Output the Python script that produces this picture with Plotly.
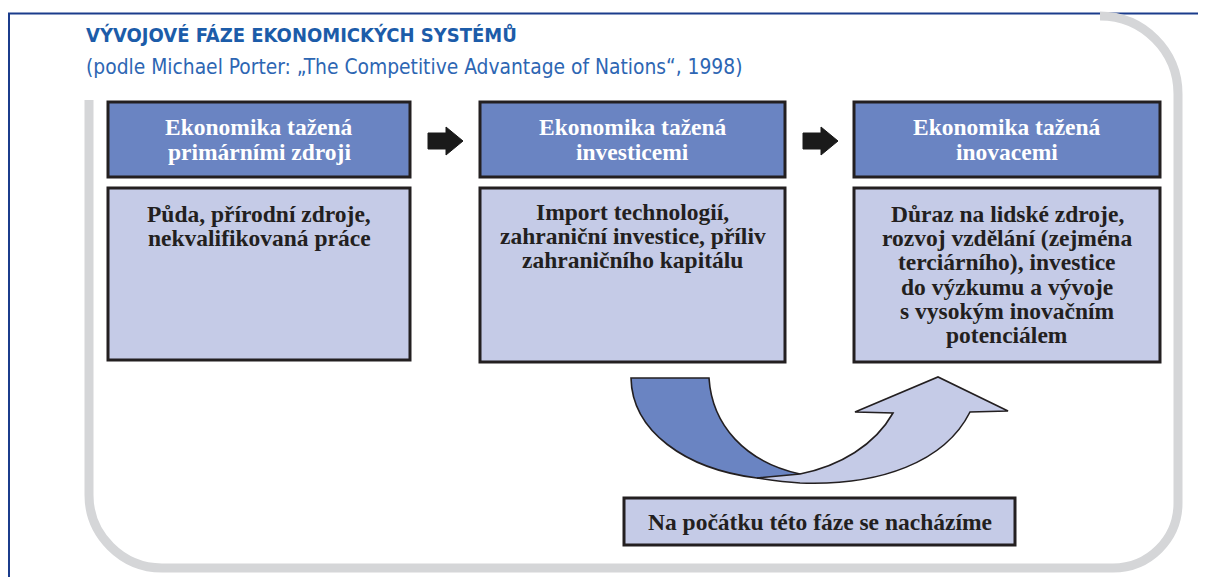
import plotly.graph_objects as go

# texts of the diagram
title = "VÝVOJOVÉ FÁZE EKONOMICKÝCH SYSTÉMŮ"
subtitle = "(podle Michael Porter: \u201eThe Competitive Advantage of Nations\u201c, 1998)"
header_lines = [
    ["Ekonomika tažená", "primárními zdroji"],
    ["Ekonomika tažená", "investicemi"],
    ["Ekonomika tažená", "inovacemi"],
]
body_lines = [
    ["Půda, přírodní zdroje,", "nekvalifikovaná práce"],
    ["Import technologií,", "zahraniční investice, příliv", "zahraničního kapitálu"],
    ["Důraz na lidské zdroje,", "rozvoj vzdělání (zejména", "terciárního), investice",
     "do výzkumu a vývoje", "s vysokým inovačním", "potenciálem"],
]
note_text = "Na počátku této fáze se nacházíme"

# layout (pixel coordinates of the page; page body has an 8px margin)
W, H = 1206, 577
OFF = 8
box_x = [(108, 410), (480, 785), (854, 1160)]
head_y = (102, 177)
body_y = [(188, 360), (188, 362), (188, 362)]
body_first = [214, 212, 214]
arrow_x = [428, 803]
note_box = (624, 498, 1015, 545)

DARK = "#231f20"
MID = "#6a84c2"
LIGHT = "#c5cbe7"
GRAY = "#d5d6d8"
NAVY = "#1b3c8c"
SERIF = "Liberation Serif, DejaVu Serif, serif"
SANS = "Liberation Sans Narrow, DejaVu Sans Condensed, sans-serif"
FS = 23.5

fig = go.Figure()
shapes = []
ann = []

# outer navy frame
shapes.append(dict(type="line", x0=OFF, x1=W + OFF, y0=13.5, y1=13.5, line=dict(color=NAVY, width=2)))
shapes.append(dict(type="line", x0=OFF + 1, x1=OFF + 1, y0=13, y1=H + OFF, line=dict(color=NAVY, width=2)))

# gray rounded frame
frame = ("M 89,100 L 89,495 C 89,535 122,568 162,568 L 1113,568 "
         "C 1149,568 1178,539 1178,503 L 1178,94 C 1178,51 1143,16 1100,16")
shapes.append(dict(type="path", path=frame, line=dict(color=GRAY, width=9)))

# boxes
for i, (x0, x1) in enumerate(box_x):
    shapes.append(dict(type="rect", x0=x0, x1=x1, y0=head_y[0], y1=head_y[1],
                       fillcolor=MID, line=dict(color=DARK, width=3)))
    shapes.append(dict(type="rect", x0=x0, x1=x1, y0=body_y[i][0], y1=body_y[i][1],
                       fillcolor=LIGHT, line=dict(color=DARK, width=3)))
    cx = (x0 + x1) / 2
    for j, line in enumerate(header_lines[i]):
        ann.append(dict(x=cx, y=127 + j * 25, text=line,
                        font=dict(family=SERIF, size=FS, color="white", weight="bold")))
    for j, line in enumerate(body_lines[i]):
        ann.append(dict(x=cx, y=body_first[i] + j * 24.2, text=line,
                        font=dict(family=SERIF, size=FS, color=DARK, weight="bold")))

# small black arrows
for ax in arrow_x:
    p = (f"M {ax},133 L {ax+18},133 L {ax+18},127 L {ax+35},141 "
         f"L {ax+18},155 L {ax+18},149 L {ax},149 Z")
    shapes.append(dict(type="path", path=p, fillcolor="#1a1a1a", line=dict(color="#1a1a1a", width=1)))

# curved arrow
dark_part = ("M 631,378 L 709,378 C 712,425 745,462 800,474 "
             "C 790,478 775,478 757,478 C 685,469 632,431 631,378 Z")
light_part = ("M 800,474 C 840,466 875,445 893,413 L 855,412 L 938,377 L 1008,411 "
              "L 970,412 C 945,462 880,486 800,483 C 785,482 770,480 757,478 Z")
shapes.append(dict(type="path", path=dark_part, fillcolor=MID, line=dict(color=DARK, width=1.6)))
shapes.append(dict(type="path", path=light_part, fillcolor=LIGHT, line=dict(color=DARK, width=1.6)))

# note box
shapes.append(dict(type="rect", x0=note_box[0], y0=note_box[1], x1=note_box[2], y1=note_box[3],
                   fillcolor=LIGHT, line=dict(color=DARK, width=3)))
ann.append(dict(x=(note_box[0] + note_box[2]) / 2, y=(note_box[1] + note_box[3]) / 2, text=note_text,
                font=dict(family=SERIF, size=FS, color=DARK, weight="bold")))

# title
ann.append(dict(x=84, y=35, text=title, xanchor="left",
                font=dict(family=SANS, size=20, color="#1c5ca9", weight="bold")))
ann.append(dict(x=84, y=67, text=subtitle, xanchor="left",
                font=dict(family=SANS, size=20.8, color="#2d66b3")))

for a in ann:
    a.setdefault("xanchor", "center")
    a.update(xref="x", yref="y", yanchor="middle", showarrow=False)

fig.update_layout(
    width=W, height=H,
    margin=dict(l=0, r=0, t=0, b=0),
    paper_bgcolor="white", plot_bgcolor="white",
    xaxis=dict(range=[OFF, W + OFF], visible=False, fixedrange=True),
    yaxis=dict(range=[H + OFF, OFF], visible=False, fixedrange=True),
    shapes=shapes, annotations=ann, showlegend=False,
)
fig.write_html("out.html")
